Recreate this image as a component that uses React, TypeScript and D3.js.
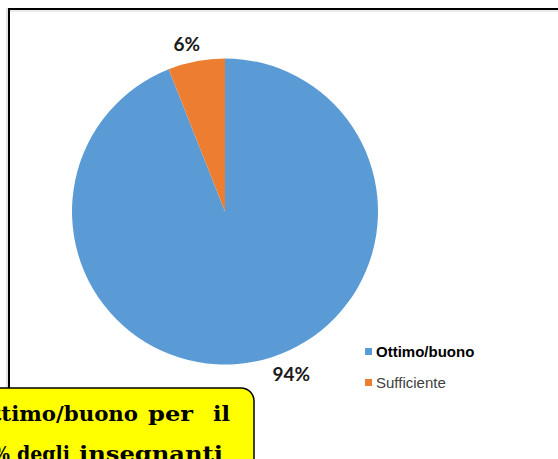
import React from "react";
import * as d3 from "d3";

const categories = ["Ottimo/buono", "Sufficiente"];
const values = [94, 6];
const labels = ["94%", "6%"];
const colors = ["#5B9BD5", "#ED7D31"];
const noteLine1 = ["Ottimo/buono", "per", "il"];
const noteLine2 = ["94%", "degli", "insegnanti"];

export default function App() {
  const W = 558, H = 459;
  const cx = 225, cy = 211.5, R = 153;
  const pie = d3.pie<number>().sort(null).startAngle(0).endAngle(2 * Math.PI);
  const arcs = pie(values);
  const arc = d3.arc<d3.PieArcDatum<number>>().innerRadius(0).outerRadius(R);
  const labelArc = d3.arc<d3.PieArcDatum<number>>().innerRadius(R + 14).outerRadius(R + 14);
  const labelShift = [[35, 1], [-7, -1]];

  return (
    <svg width={W} height={H} style={{ position: "absolute", left: 0, top: 0, background: "#fff" }}>
      {/* chart frame */}
      <line x1={7} y1={8} x2={7} y2={H} stroke="#c8c8c8" strokeWidth={1} />
      <line x1={9} y1={11} x2={W} y2={11} stroke="#d8d8d8" strokeWidth={1} />
      <line x1={8} y1={9} x2={W} y2={9} stroke="#000" strokeWidth={2} />
      <line x1={9} y1={8} x2={9} y2={H} stroke="#000" strokeWidth={2} />

      <g transform={`translate(${cx},${cy})`}>
        {arcs.map((a, i) => (
          <path key={i} d={arc(a) || ""} fill={colors[i]} />
        ))}
        {arcs.map((a, i) => {
          const [x, y] = labelArc.centroid(a);
          return (
            <text key={"l" + i} x={x + labelShift[i][0]} y={y + labelShift[i][1]} textAnchor="middle"
              dominantBaseline="middle" fontFamily="Lato, 'Open Sans', sans-serif" fontWeight="bold"
              fontSize={19} fill="#1a1a1a">{labels[i]}</text>
          );
        })}
      </g>

      {/* legend */}
      {categories.map((c, i) => (
        <g key={c} transform={`translate(365,${348 + i * 31})`}>
          <rect x={0} y={0} width={7} height={7} fill={colors[i]} />
          <text x={11} y={8.5} fontFamily="'Liberation Sans', Arial, sans-serif" fontSize={15}
            fontWeight={i === 0 ? "bold" : "normal"} fill={i === 0 ? "#000" : "#404040"}>{c}</text>
        </g>
      ))}

      {/* yellow note box */}
      <rect x={-40} y={388} width={294} height={120} rx={13} ry={13} fill="#FFFF00" stroke="#000" strokeWidth={1.5} />
      <g fontFamily="'DejaVu Serif', 'Liberation Serif', serif" fontWeight="bold" fontSize={21} fill="#000">
        <text x={-27} y={421} textLength={165} lengthAdjust="spacingAndGlyphs">{noteLine1[0]}</text>
        <text x={148} y={421} textLength={45} lengthAdjust="spacingAndGlyphs">{noteLine1[1]}</text>
        <text x={213} y={421} textLength={17} lengthAdjust="spacingAndGlyphs">{noteLine1[2]}</text>
        <text x={-31} y={461} textLength={41} lengthAdjust="spacingAndGlyphs">{noteLine2[0]}</text>
        <text x={17} y={461} textLength={53} lengthAdjust="spacingAndGlyphs">{noteLine2[1]}</text>
        <text x={79} y={461} textLength={144} lengthAdjust="spacingAndGlyphs">{noteLine2[2]}</text>
      </g>
    </svg>
  );
}
